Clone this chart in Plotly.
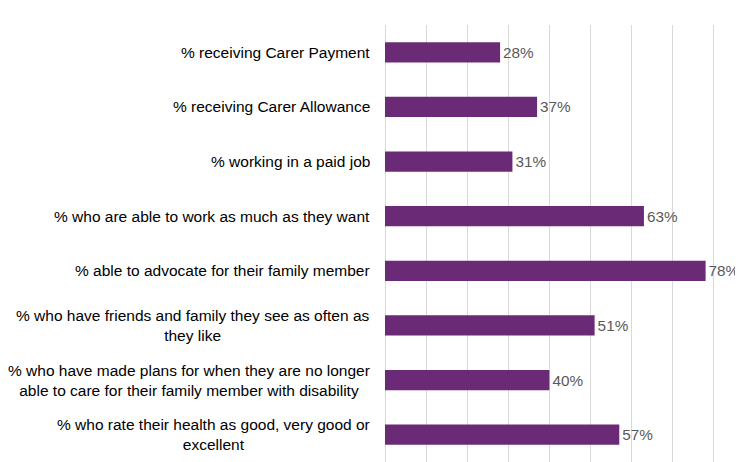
import plotly.graph_objects as go

# Carer outcome measures, top to bottom as shown
categories = [
    "% receiving Carer Payment",
    "% receiving Carer Allowance",
    "% working in a paid job",
    "% who are able to work as much as they want",
    "% able to advocate for their family member",
    "% who have friends and family they see as often as<br>they like",
    "% who have made plans for when they are no longer<br>able to care for their family member with disability",
    "% who rate their health as good, very good or<br>excellent",
]
values = [28, 37, 31, 63, 78, 51, 40, 57]
value_labels = [f"{v}%" for v in values]

FONT = "Liberation Sans, Arial, sans-serif"

fig = go.Figure(go.Bar(
    x=values,
    y=categories,
    orientation="h",
    marker={"color": "#6B2A75", "line": {"width": 0}},
    text=value_labels,
    textposition="outside",
    textfont={"size": 15.3, "color": "#595959", "family": FONT},
    cliponaxis=False,
    hoverinfo="skip",
))

# category labels as annotations so wrapped lines stay centred on each other
for cat in categories:
    fig.add_annotation(
        x=0, xref="paper", xshift=-13, y=cat, yref="y",
        text=cat, showarrow=False, xanchor="right", align="center",
        font={"size": 15.5, "color": "#000000", "family": FONT},
    )

# page body has an 8px margin, so the figure is shrunk/offset to land on the reference
fig.update_layout(
    width=735, height=454,
    margin={"l": 377, "r": 0, "t": 17, "b": 0},
    plot_bgcolor="white", paper_bgcolor="white",
    bargap=0.63,
    showlegend=False,
    font={"family": FONT},
)
fig.update_xaxes(
    range=[0, 87.1], dtick=10, showticklabels=False,
    showgrid=True, gridcolor="#D9D9D9", gridwidth=1,
    zeroline=True, zerolinecolor="#D9D9D9", zerolinewidth=1,
)
fig.update_yaxes(autorange="reversed", showticklabels=False, showgrid=False)

fig.write_html("out.html")
